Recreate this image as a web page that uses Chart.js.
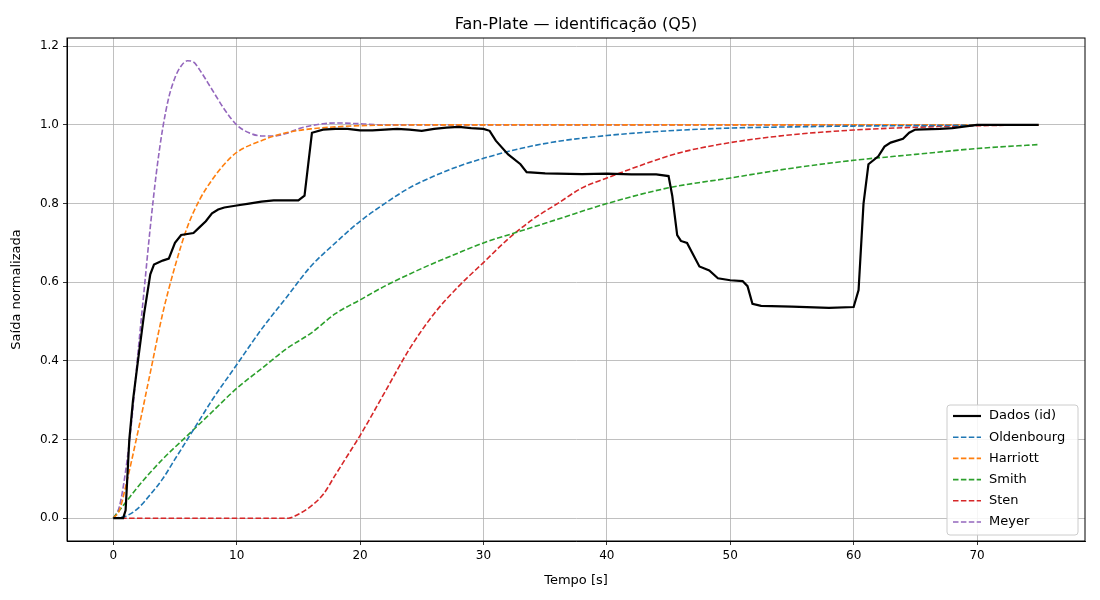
<!DOCTYPE html>
<html><head><meta charset="utf-8">
<script src="https://cdn.jsdelivr.net/npm/chart.js@4"></script>
<style>body{margin:0;background:#fff}#wrap{width:1100px;height:600px}</style>
</head><body><div id="wrap"><canvas id="c" width="1100" height="600"></canvas></div>
<script>
// valores
const dadosT = [0,0.8,1.0,1.3,1.6,2,2.5,3,3.3,4,4.5,5,5.5,6.5,7,7.5,8,8.5,9,10,11,12,13,15,15.5,15.8,16.1,17,18,19,20,21,22,23,24,25,26,27,28,29,30,30.5,31,32,33,33.5,35,38,40,42,44,45,45.3,45.7,46,46.5,47,47.5,48.3,49,50,51,51.4,51.8,52.5,55,58,60,60.4,60.8,61.2,62,62.5,63,64,64.5,65,67,68,70,75];
const dadosY = [0,0,0.02,0.2,0.3,0.4,0.52,0.62,0.645,0.655,0.66,0.7,0.72,0.725,0.74,0.755,0.775,0.785,0.79,0.795,0.8,0.805,0.808,0.808,0.82,0.9,0.98,0.988,0.99,0.99,0.986,0.986,0.988,0.99,0.988,0.985,0.99,0.993,0.995,0.992,0.99,0.985,0.96,0.925,0.9,0.88,0.877,0.875,0.876,0.874,0.874,0.87,0.82,0.72,0.705,0.7,0.67,0.64,0.63,0.61,0.605,0.603,0.59,0.545,0.54,0.538,0.535,0.537,0.58,0.8,0.9,0.92,0.945,0.955,0.965,0.98,0.988,0.99,0.992,1.0,1.0];
const oldT = [0,1,2,3,4,5,6,7,8,10,12,14,16,18,20,22,24,26,28,30,33,36,40,45,50,55,60,70,75];
const oldY = [0,0.005,0.025,0.06,0.1,0.15,0.2,0.25,0.3,0.39,0.48,0.56,0.64,0.7,0.755,0.8,0.84,0.87,0.895,0.915,0.94,0.958,0.973,0.985,0.992,0.995,0.997,0.999,1.0];
const harT = [0,0.5,1,2,3,4,5,6,7,8,9,10,12,14,16,18,20,25,75];
const harY = [0,0.02,0.08,0.22,0.37,0.52,0.64,0.74,0.81,0.86,0.9,0.93,0.96,0.98,0.99,0.995,0.998,1,1];
const smiT = [0,1,2,4,6,8,10,12,14,16,18,20,22,25,28,30,33,36,40,45,50,55,60,65,70,75];
const smiY = [0,0.04,0.08,0.15,0.21,0.27,0.33,0.38,0.43,0.47,0.52,0.555,0.59,0.635,0.675,0.7,0.73,0.76,0.8,0.84,0.865,0.89,0.91,0.925,0.94,0.95];
const steT = [0,14.2,15,16,17,18,19,20,22,24,26,28,30,32,34,36,38,40,43,46,50,55,60,65,70,75];
const steY = [0,0,0.01,0.03,0.06,0.11,0.16,0.21,0.32,0.43,0.52,0.59,0.65,0.71,0.76,0.8,0.84,0.865,0.9,0.93,0.955,0.975,0.987,0.994,0.998,1.0];
const meyT = [0,0.5,1,1.5,2,2.5,3,3.5,4,4.5,5,5.5,6,6.5,7,8,9,10,11,12,13,14,15,16,17,18,20,22,75];
const meyY = [0,0.03,0.12,0.25,0.42,0.58,0.74,0.88,0.99,1.07,1.12,1.15,1.163,1.16,1.14,1.09,1.04,1.0,0.98,0.972,0.972,0.978,0.99,0.998,1.003,1.005,1.003,1.0,1];

const pts = (t, y) => t.map((v, i) => ({x: v, y: y[i]}));
const serie = (label, t, y, color, dashed, smooth) => ({
    label: label, data: pts(t, y), borderColor: color, backgroundColor: color,
    borderWidth: dashed ? 1.6 : 2.2, borderDash: dashed ? [5.5, 2.4] : [],
    pointRadius: 0, showLine: true, cubicInterpolationMode: smooth ? 'monotone' : 'default', tension: 0
});

const legendaInterna = {
    id: 'legendaInterna',
    afterDraw(chart) {
        const ctx = chart.ctx, ds = chart.data.datasets, a = chart.chartArea;
        ctx.save();
        // moldura
        ctx.strokeStyle = '#000'; ctx.lineWidth = 1;
        ctx.strokeRect(a.left, a.top, a.right - a.left, a.bottom - a.top);
        const w = 131, h = 130, x0 = a.right - w - 7, y0 = a.bottom - h - 6;
        ctx.fillStyle = 'rgba(255,255,255,0.85)';
        ctx.strokeStyle = '#cccccc';
        ctx.beginPath(); ctx.roundRect(x0, y0, w, h, 3); ctx.fill(); ctx.stroke();
        ctx.font = '13px "DejaVu Sans"';
        ctx.textBaseline = 'middle';
        ds.forEach((d, i) => {
            const y = y0 + 11 + i * 21.2;
            ctx.strokeStyle = d.borderColor; ctx.lineWidth = d.borderWidth;
            ctx.setLineDash(d.borderDash);
            ctx.beginPath(); ctx.moveTo(x0 + 6, y); ctx.lineTo(x0 + 34, y); ctx.stroke();
            ctx.setLineDash([]);
            ctx.fillStyle = '#000'; ctx.fillText(d.label, x0 + 42, y);
        });
        // título
        ctx.font = '16px "DejaVu Sans"'; ctx.textAlign = 'center'; ctx.textBaseline = 'alphabetic';
        ctx.fillText('Fan-Plate — identificação (Q5)', (a.left + a.right) / 2, 29);
        ctx.restore();
    }
};

Chart.defaults.font.family = '"DejaVu Sans"';
Chart.defaults.color = '#000';
new Chart(document.getElementById('c'), {
    type: 'scatter',
    data: { datasets: [
        serie('Dados (id)', dadosT, dadosY, '#000000', false, false),
        serie('Oldenbourg', oldT, oldY, '#1f77b4', true, true),
        serie('Harriott', harT, harY, '#ff7f0e', true, true),
        serie('Smith', smiT, smiY, '#2ca02c', true, true),
        serie('Sten', steT, steY, '#d62728', true, true),
        serie('Meyer', meyT, meyY, '#9467bd', true, true)
    ]},
    options: {
        responsive: false, animation: false,
        layout: { padding: { top: 38, right: 15, left: 0, bottom: 0 } },
        plugins: { legend: { display: false }, title: { display: false }, tooltip: { enabled: false } },
        scales: {
            x: {
                type: 'linear', min: -3.75, max: 78.75,
                afterBuildTicks: s => { s.ticks = [0,10,20,30,40,50,60,70].map(v => ({value: v})); },
                afterFit: s => { s.height = 59; },
                ticks: { font: { size: 12 }, maxRotation: 0, padding: 4 },
                grid: { color: '#b0b0b0', lineWidth: 0.8, tickLength: 4, tickColor: '#000' },
                border: { color: '#000', width: 1 },
                title: { display: true, text: 'Tempo [s]', font: { size: 13 }, padding: { top: 0, bottom: 12 } }
            },
            y: {
                min: -0.058, max: 1.221,
                afterBuildTicks: s => { s.ticks = [0,0.2,0.4,0.6,0.8,1.0,1.2].map(v => ({value: v})); },
                afterFit: s => { s.width = 67; },
                ticks: { font: { size: 12 }, padding: 4, callback: v => v.toFixed(1) },
                grid: { color: '#b0b0b0', lineWidth: 0.8, tickLength: 4, tickColor: '#000' },
                border: { color: '#000', width: 1 },
                title: { display: true, text: 'Saída normalizada', font: { size: 13 }, padding: { top: 9, bottom: 0 } }
            }
        }
    },
    plugins: [legendaInterna]
});
</script></body></html>
